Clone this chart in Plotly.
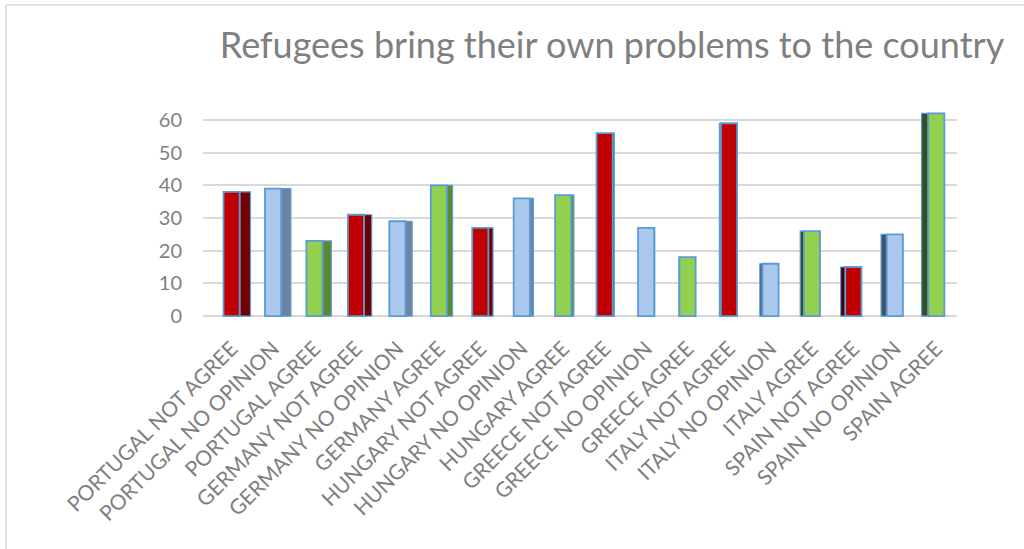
import plotly.graph_objects as go

# Survey answers per country and opinion
categories = [
    "PORTUGAL NOT AGREE", "PORTUGAL NO OPINION", "PORTUGAL AGREE",
    "GERMANY NOT AGREE", "GERMANY NO OPINION", "GERMANY AGREE",
    "HUNGARY NOT AGREE", "HUNGARY NO OPINION", "HUNGARY AGREE",
    "GREECE NOT AGREE", "GREECE NO OPINION", "GREECE AGREE",
    "ITALY NOT AGREE", "ITALY NO OPINION", "ITALY AGREE",
    "SPAIN NOT AGREE", "SPAIN NO OPINION", "SPAIN AGREE",
]
values = [38, 39, 23, 31, 29, 40, 27, 36, 37, 56, 27, 18, 59, 16, 26, 15, 25, 62]
y_ticks = [0, 10, 20, 30, 40, 50, 60]

# Styling by answer type
front_colors = {"NOT AGREE": "#c00000", "NO OPINION": "#aac8ec", "AGREE": "#92d050"}
right_side = {"NOT AGREE": "#700000", "NO OPINION": "#6c84a2", "AGREE": "#5a8a2e"}
left_side = {"NOT AGREE": "#3c0000", "NO OPINION": "#435266", "AGREE": "#354f1f"}


def answer_type(label):
    for key in ("NOT AGREE", "NO OPINION", "AGREE"):
        if label.endswith(key):
            return key


FRONT_W = 0.39
n = len(categories)
vanish = 10.5  # index where the side faces disappear
side_w, side_off, side_col = [], [], []
for i, c in enumerate(categories):
    d = abs(vanish - i) / vanish * 0.26
    kind = answer_type(c)
    side_w.append(d)
    if i < vanish:
        side_off.append(FRONT_W / 2)
        side_col.append(right_side[kind])
    else:
        side_off.append(-FRONT_W / 2 - d)
        side_col.append(left_side[kind])

front_col = [front_colors[answer_type(c)] for c in categories]

fig = go.Figure()
fig.add_trace(go.Bar(
    x=categories, y=values, width=side_w, offset=side_off,
    marker=dict(color=side_col, line=dict(color="#5b9bd5", width=1.2)),
    hoverinfo="skip",
))
fig.add_trace(go.Bar(
    x=categories, y=values, width=FRONT_W, offset=-FRONT_W / 2,
    marker=dict(color=front_col, line=dict(color="#5b9bd5", width=1.8)),
))

W, H = 1024, 549
grey = "#7f7f7f"
font = "Lato, 'Open Sans', sans-serif"

fig.update_layout(
    width=W, height=H,
    margin=dict(l=0, r=0, t=0, b=0),
    paper_bgcolor="white", plot_bgcolor="white",
    barmode="overlay", showlegend=False,
    font=dict(family=font, color=grey),
    title=dict(
        text="Refugees bring their own problems to the country",
        font=dict(size=36, color=grey, family=font),
        x=612 / W, xanchor="center", y=1 - 45 / H, yanchor="middle",
    ),
    xaxis=dict(
        domain=[203 / W, 957 / W], range=[-0.69, n - 0.5],
        tickangle=-45, tickfont=dict(size=21, color=grey),
        showgrid=False, showline=False, ticks="",
        ticklabelstandoff=12, automargin=False,
    ),
    yaxis=dict(
        domain=[(H - 319.3) / H, (H - 106.9) / H], range=[-1, 64],
        tickvals=y_ticks, tickfont=dict(size=20, color=grey),
        showgrid=True, gridcolor="#d9d9d9", gridwidth=2,
        zeroline=True, zerolinecolor="#d9d9d9", zerolinewidth=2,
        showline=False, ticks="", ticklabelstandoff=20, automargin=False,
    ),
    shapes=[
        dict(type="line", xref="paper", yref="paper",
             x0=6 / W, x1=1, y0=1 - 5 / H, y1=1 - 5 / H,
             line=dict(color="#d9d9d9", width=1.5)),
        dict(type="line", xref="paper", yref="paper",
             x0=6 / W, x1=6 / W, y0=0, y1=1 - 5 / H,
             line=dict(color="#d9d9d9", width=1.5)),
    ],
)

fig.write_html("out.html")
